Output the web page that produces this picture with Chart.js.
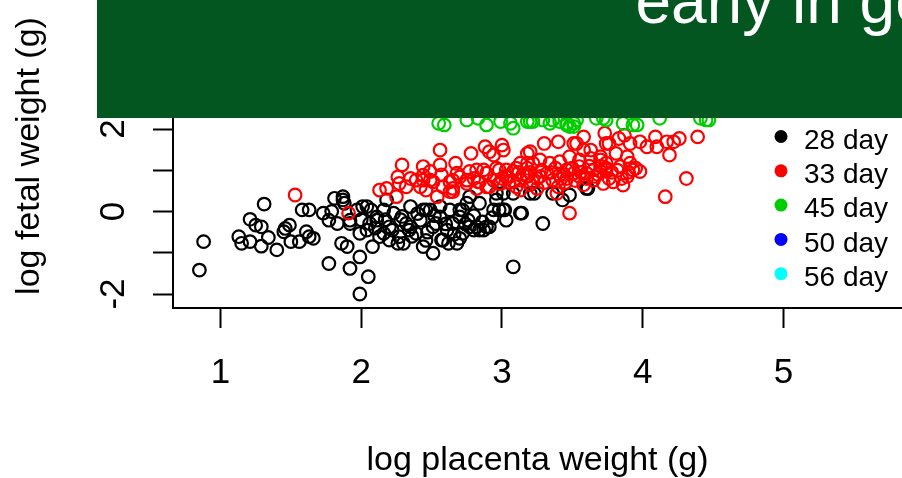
<!DOCTYPE html>
<html>
<head>
<meta charset="utf-8">
<script src="https://cdn.jsdelivr.net/npm/chart.js@4.4.1/dist/chart.umd.min.js"></script>
<style>
  html, body { margin: 0; padding: 0; background: #fff; }
</style>
</head>
<body>
<canvas id="myChart" width="902" height="478"></canvas>
<script>
var FONT = '"Liberation Sans", Arial, sans-serif';

// series: [log placenta weight, log fetal weight]
var day28 = [
  [0.88,-0.73],[0.85,-1.42],[1.31,0.18],[1.13,-0.61],[1.15,-0.77],[1.21,-0.73],[1.21,-0.19],
  [1.25,-0.33],[1.29,-0.37],[1.29,-0.84],[1.34,-0.63],[1.40,-0.93],[1.45,-0.49],[1.46,-0.41],
  [1.49,-0.33],[1.50,-0.73],[1.56,-0.73],[1.58,0.04],[1.63,0.04],[1.61,-0.49],[1.63,-0.61],
  [1.66,-0.65],[1.73,-0.04],[1.77,-0.21],[1.81,0.32],[1.79,0.00],[1.83,-0.29],[1.86,-0.77],
  [1.88,0.20],[1.87,0.36],[1.92,-0.21],[1.99,-1.10],[1.77,-1.26],[1.92,-1.38],[2.05,-1.58],
  [1.99,-2.00],[2.01,0.12],[2.04,-0.45],[2.07,0.04],[2.11,-0.21],[2.16,-0.53],[2.20,-0.69],
  [2.18,0.28],[2.26,-0.77],[2.30,-0.77],[2.29,-0.12],[2.35,-0.37],[2.39,-0.53],[2.44,0.04],
  [2.51,-1.01],[2.53,-0.29],[2.57,-0.69],[2.62,-0.77],[2.68,-0.77],[2.72,0.04],[2.76,-0.21],
  [2.82,-0.37],[2.84,0.20],[2.87,-0.45],[2.91,-0.37],[2.94,0.04],[3.01,0.44],[3.02,0.04],
  [3.03,-0.21],[3.08,-1.34],[3.14,-0.04],[1.87,0.28],[1.92,-0.29],[1.97,0.04],[2.04,0.12],
  [1.99,-0.53],[2.06,-0.29],[2.11,-0.13],[2.13,-0.61],[2.16,0.04],[2.20,-0.37],[2.23,-0.04],
  [2.27,-0.61],[2.32,-0.29],[2.35,0.12],[2.42,-0.21],[2.44,-0.85],[2.46,0.04],[2.51,-0.37],
  [2.56,-0.13],[2.58,-0.69],[2.61,-0.45],[2.63,0.04],[2.65,-0.29],[2.70,-0.13],[2.72,-0.53],
  [2.75,0.20],[2.77,-0.37],[2.80,-0.45],[2.84,-0.45],[2.89,-0.37],[2.96,0.28],[2.98,0.04],
  [3.08,0.44],[1.90,-0.85],[2.08,-0.85],[2.49,0.04],[2.56,0.12],[2.70,0.04],[2.77,0.36],
  [2.96,0.44],[3.01,0.04],[3.13,-0.04],[3.20,0.44],[3.29,-0.29],[3.23,0.44],[3.36,0.44],
  [3.60,0.56],[3.48,0.40],[3.61,0.56],[3.43,0.28],
  [2.22,-0.45],[2.28,-0.20],[2.36,-0.60],[2.40,-0.05],[2.47,-0.50],[2.52,-0.10],[2.60,-0.30],
  [2.66,-0.55],[2.74,-0.30],[2.80,-0.10],[2.86,-0.25],[2.10,-0.40],[2.00,-0.20],[2.17,-0.20],
  [2.93,-0.15],[2.46,-0.70],[2.34,-0.45],[2.70,-0.65]
];
var day33 = [
  [1.53,0.40],[1.91,-0.04],[2.13,0.52],[2.18,0.56],[2.25,0.36],[2.27,0.68],[2.32,0.60],
  [2.39,0.76],[2.42,0.60],[2.46,0.52],[2.49,0.76],[2.54,0.36],[2.58,0.60],[2.63,0.72],
  [2.65,0.48],[2.70,0.84],[2.75,0.68],[2.80,0.80],[2.84,0.72],[2.89,0.60],[2.94,0.76],
  [2.98,0.68],[3.03,0.84],[3.08,0.72],[3.13,0.76],[3.18,0.88],[2.35,0.80],[2.26,0.84],
  [2.44,0.88],[2.29,1.13],[2.44,1.09],[2.56,1.13],[2.67,1.17],[2.82,1.01],[2.89,0.93],
  [2.98,1.01],[3.10,1.05],[3.18,1.17],[2.56,1.49],[2.78,1.41],[2.91,1.45],[3.01,1.49],
  [3.18,1.41],[2.88,1.57],[3.00,1.61],[2.94,1.37],[3.20,1.45],[3.30,1.65],[3.40,1.69],
  [3.53,1.65],[3.58,1.81],[3.63,1.49],[3.73,1.90],[3.74,1.65],[2.49,0.97],[2.57,0.89],
  [2.68,0.93],[2.77,0.97],[2.87,1.01],[2.96,1.05],[3.03,1.01],[3.13,1.17],[3.08,0.97],
  [3.18,1.05],[3.22,1.17],[3.27,1.25],[3.34,1.17],[3.41,1.21],[3.48,1.33],[3.55,1.25],
  [3.63,1.29],[3.70,1.25],[3.74,1.17],[2.44,0.76],[2.51,0.72],[2.65,0.76],[2.75,0.76],
  [2.83,0.72],[2.91,0.60],[2.99,0.68],[3.03,0.85],[3.18,0.85],[3.22,0.72],[3.27,0.85],
  [3.32,0.93],[3.36,0.76],[3.41,0.89],[3.46,0.80],[3.51,0.93],[3.55,0.85],[3.60,0.93],
  [3.65,1.01],[3.70,0.97],[3.74,1.01],[3.13,0.52],[3.25,0.56],[3.39,0.44],[3.48,-0.04],
  [2.82,0.56],[2.65,0.56],[2.63,0.48],[3.51,1.65],[3.76,1.65],[3.83,1.77],[3.87,1.85],
  [3.91,1.65],[3.98,1.69],[4.03,1.57],[4.09,1.81],[4.10,1.57],[4.17,1.69],[4.22,1.69],
  [4.26,1.77],[4.19,1.37],[4.39,1.81],[4.31,0.80],[4.16,0.36],[3.98,0.97],[3.89,0.85],
  [3.86,0.64],[3.79,0.72],[3.72,0.68],[3.65,0.76],[3.46,1.01],[3.55,1.09],[3.74,1.05],
  [3.84,1.09],[3.91,1.17],[3.93,1.01],[3.70,1.33],[3.81,1.41],[3.89,1.33],[3.58,1.49],
  [3.05,0.70],[3.15,0.90],[3.25,0.80],[3.35,0.95],[3.45,0.70],[3.50,1.05],[3.60,0.80],
  [3.68,0.90],[3.78,0.95],[3.85,0.80],[3.20,0.65],[3.40,0.60],[3.58,0.65],
  [3.10,0.60],[3.20,0.95],[3.30,0.70],[3.38,1.05],[3.44,0.90],[3.52,0.75],[3.62,1.10],
  [3.66,0.85],[3.76,0.80],[3.82,1.00],[3.90,0.95],[3.28,1.00],[3.12,0.95],[3.00,0.80],
  [3.56,0.95],[3.70,1.10],[3.95,1.05],[3.42,0.80]
];
var day45 = [
  [2.55,2.14],[2.59,2.10],[2.75,2.22],[2.83,2.26],[2.89,2.10],[2.99,2.18],[3.06,2.14],
  [3.08,2.02],[3.18,2.18],[3.22,2.18],[3.29,2.22],[3.36,2.22],[3.41,2.18],[3.46,2.14],
  [3.51,2.06],[3.53,2.22],[3.67,2.26],[3.74,2.22],[3.46,2.10],[3.51,2.14],[3.72,2.26],
  [3.86,2.14],[3.96,2.10],[4.12,2.26],[4.41,2.26],[4.47,2.22],[3.20,2.18],[3.34,2.14],
  [3.48,2.06],[3.93,2.10],[4.45,2.22]
];
var day50 = [];
var day56 = [];

var seriesLabels = ['28 day', '33 day', '45 day', '50 day', '56 day'];
var seriesColors = ['#000000', '#ff0000', '#00cd00', '#0000ff', '#00ffff'];
var seriesData = [day28, day33, day45, day50, day56];

var xTicks = [1, 2, 3, 4, 5];
var xTickLabels = ['1', '2', '3', '4', '5'];
var yTicks = [-2, -1, 0, 1, 2];
var yTickLabels = ['-2', '', '0', '', '2'];

// R style legend inside the plot
var rLegend = {
  id: 'rLegend',
  afterDatasetsDraw: function(chart) {
    var ctx = chart.ctx;
    ctx.save();
    ctx.font = '28px ' + FONT;
    ctx.textBaseline = 'middle';
    chart.data.datasets.forEach(function(ds, i) {
      var y = 141 + i * 34.3;
      ctx.fillStyle = ds.borderColor;
      ctx.beginPath();
      ctx.arc(781, y - 4.5, 6.5, 0, Math.PI * 2);
      ctx.fill();
      ctx.fillStyle = '#000';
      ctx.fillText(ds.label, 804, y);
    });
    ctx.restore();
  }
};

// slide title bar laid over the top of the plot
var banner = {
  id: 'banner',
  afterDraw: function(chart) {
    var ctx = chart.ctx;
    ctx.save();
    ctx.fillStyle = '#03561f';
    ctx.fillRect(97, 0, 805, 118);
    ctx.fillStyle = '#ffffff';
    ctx.font = '64px ' + FONT;
    ctx.textBaseline = 'alphabetic';
    ctx.fillText('early in ge', 635.5, 23);
    ctx.restore();
  }
};

var ctx = document.getElementById('myChart').getContext('2d');
var chart = new Chart(ctx, {
  type: 'scatter',
  data: {
    datasets: seriesData.map(function(pts, i) {
      return {
        label: seriesLabels[i],
        data: pts.map(function(p) { return { x: p[0], y: p[1] }; }),
        borderColor: seriesColors[i],
        backgroundColor: 'rgba(0,0,0,0)',
        pointRadius: 6.3,
        pointBorderWidth: 2.2,
        pointHoverRadius: 6.3,
        order: 5 - i
      };
    })
  },
  options: {
    responsive: false,
    animation: false,
    events: [],
    layout: { autoPadding: false, padding: { top: 4, right: 0, bottom: 0, left: 0 } },
    plugins: {
      legend: { display: false },
      tooltip: { enabled: false }
    },
    scales: {
      x: {
        type: 'linear',
        min: 0.6625,
        max: 5.842,
        afterBuildTicks: function(s) { s.ticks = xTicks.map(function(v) { return { value: v }; }); },
        afterFit: function(s) { s.height = 170; s.paddingLeft = 0; s.paddingRight = 0; },
        grid: { display: true, drawOnChartArea: false, drawTicks: true, tickLength: 20, tickWidth: 2, tickColor: '#000' },
        border: { display: true, color: '#000', width: 2 },
        ticks: {
          autoSkip: false, maxRotation: 0, color: '#000', padding: 24,
          font: { family: FONT, size: 35 },
          callback: function(v, i) { return xTickLabels[i]; }
        },
        title: {
          display: true, text: 'log placenta weight (g)', color: '#000',
          font: { family: FONT, size: 34, lineHeight: 1 },
          padding: { top: 0, bottom: 0 }
        }
      },
      y: {
        type: 'linear',
        min: -2.339,
        max: 5.031,
        afterBuildTicks: function(s) { s.ticks = yTicks.map(function(v) { return { value: v }; }); },
        afterFit: function(s) { s.width = 173; s.paddingTop = 0; s.paddingBottom = 0; },
        grid: { display: true, drawOnChartArea: false, drawTicks: true, tickLength: 20, tickWidth: 2, tickColor: '#000' },
        border: { display: true, color: '#000', width: 2 },
        ticks: {
          autoSkip: false, minRotation: 90, maxRotation: 90, crossAlign: 'center',
          color: '#000', padding: 23,
          font: { family: FONT, size: 35 },
          callback: function(v, i) { return yTickLabels[i]; }
        },
        title: {
          display: true, text: 'log fetal weight (g)', color: '#000',
          font: { family: FONT, size: 34, lineHeight: 1 },
          padding: { top: 13, bottom: 0 }
        }
      }
    }
  },
  plugins: [rLegend, banner]
});
</script>
</body>
</html>
